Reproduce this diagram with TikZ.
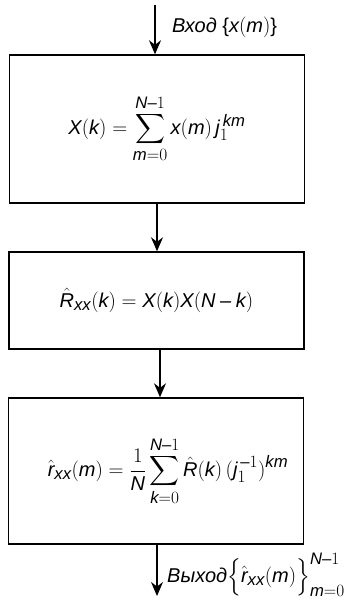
\documentclass[tikz,border=0pt]{standalone}
\usepackage{amsmath}
\usepackage{fontspec}
\setmainfont{Liberation Sans}
\usepackage[italic]{mathastext}
\usetikzlibrary{arrows.meta}
\begin{document}
\begin{tikzpicture}[x=1pt,y=1pt,
  blk/.style={draw, line width=1.4pt, minimum width=295pt, inner sep=0pt,
    font=\fontsize{20}{24}\selectfont},
  lbl/.style={anchor=west, inner sep=0pt, font=\fontsize{20}{24}\selectfont\itshape},
  flow/.style={line width=1.4pt, -{Stealth[length=14pt,width=12pt]}}]
\useasboundingbox (0,0) rectangle (348,601);
\node[blk, minimum height=148pt] (b1) at (157,472) {$X(k) = \displaystyle\sum_{m=0}^{N-1} x(m)\,j_1^{\,km}$};
\node[blk, minimum height=97pt] (b2) at (156.5,300.5) {$\hat{R}_{xx}(k) = X(k)X(N - k)$};
\node[blk, minimum height=146pt] (b3) at (156,130) {\hspace{24pt}$\hat{r}_{xx}(m) = \dfrac{1}{N}\displaystyle\sum_{k=0}^{N-1}\hat{R}(k)\,(j_1^{\,-1})^{km}$};
\coordinate (in) at (155,596);
\coordinate (out) at (157,5);
\draw[flow] (in) -- (in |- b1.north);
\draw[flow] (b1.south -| 157,0) -- (b2.north -| 157,0);
\draw[flow] (b2.south -| 160,0) -- (b3.north -| 160,0);
\draw[flow] (b3.south -| out) -- (out);
\node[lbl] (inl) at (172,574) {Вход $\{x(m)\}$};
\node[lbl] (outl) at (167,26) {Выход$\Bigl\{\hat{r}_{xx}(m)\Bigr\}_{m=0}^{N-1}$};
\end{tikzpicture}
\end{document}
